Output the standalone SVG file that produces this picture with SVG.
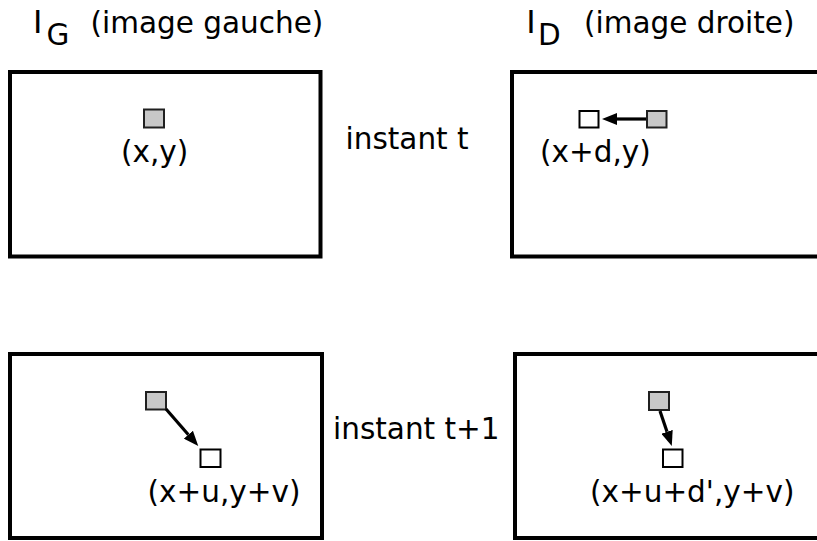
<svg xmlns="http://www.w3.org/2000/svg" width="817" height="541" viewBox="0 0 817 541">
  <style>
    .frame { fill: #ffffff; stroke: #000000; stroke-width: 4; }
    .pt-old { fill: #c8c8c8; stroke: #202020; stroke-width: 2; }
    .pt-new { fill: #ffffff; stroke: #000000; stroke-width: 2; }
    .lbl { font-family: "DejaVu Sans", "Liberation Sans", sans-serif; font-size: 29.5px; fill: #000000; }
    .big { font-family: "DejaVu Sans", "Liberation Sans", sans-serif; font-size: 32px; fill: #000000; }
    .link { stroke: #000000; stroke-width: 3.2; fill: none; marker-end: url(#head); }
  </style>
  <defs>
    <marker id="head" viewBox="0 0 15 12" refX="0" refY="6" markerWidth="15" markerHeight="12" markerUnits="userSpaceOnUse" orient="auto">
      <path d="M0,0 L15,6 L0,12 z" fill="#000000"/>
    </marker>
  </defs>
  <rect width="817" height="541" fill="#ffffff"/>

  <!-- column titles -->
  <g id="title-left">
    <text class="big" x="33" y="33">I</text>
    <text class="lbl" x="46.5" y="45">G</text>
    <text class="lbl" x="90.5" y="33">(image gauche)</text>
  </g>
  <g id="title-right">
    <text class="big" x="526.3" y="33">I</text>
    <text class="lbl" x="538" y="45">D</text>
    <text class="lbl" x="584" y="33">(image droite)</text>
  </g>

  <!-- time labels -->
  <text id="label-t" class="lbl" x="345.5" y="149">instant t</text>
  <text id="label-t1" class="lbl" x="333" y="439">instant t+1</text>

  <!-- left image, time t -->
  <g id="left-t">
    <rect class="frame" x="10" y="72" width="310.5" height="184.5"/>
    <rect class="pt-old" x="144" y="109.5" width="20" height="18"/>
    <text class="lbl" x="121" y="162">(x,y)</text>
  </g>

  <!-- right image, time t -->
  <g id="right-t">
    <rect class="frame" x="512" y="72" width="400" height="184.5"/>
    <rect class="pt-new" x="579.5" y="111" width="19" height="16.5"/>
    <rect class="pt-old" x="647" y="111" width="19.5" height="16.5"/>
    <text class="lbl" x="540" y="162">(x+d,y)</text>
  </g>

  <!-- left image, time t+1 -->
  <g id="left-t1">
    <rect class="frame" x="10" y="354" width="312" height="184"/>
    <rect class="pt-old" x="146" y="392" width="20" height="17.5"/>
    <rect class="pt-new" x="200.5" y="449.5" width="20" height="17.5"/>
    <text class="lbl" x="147.5" y="502">(x+u,y+v)</text>
  </g>

  <!-- right image, time t+1 -->
  <g id="right-t1">
    <rect class="frame" x="515" y="354" width="400" height="184"/>
    <rect class="pt-old" x="649" y="392" width="20" height="18"/>
    <rect class="pt-new" x="663" y="449.5" width="19.5" height="17.5"/>
    <text class="lbl" x="590" y="502">(x+u+d',y+v)</text>
  </g>

  <!-- displacement arrows -->
  <g id="connectors">
    <line class="link" x1="646" y1="119" x2="617" y2="119"/>
    <line class="link" x1="166" y1="409" x2="188.4" y2="434.7"/>
    <line class="link" x1="660" y1="411" x2="667" y2="431.8"/>
  </g>
</svg>
